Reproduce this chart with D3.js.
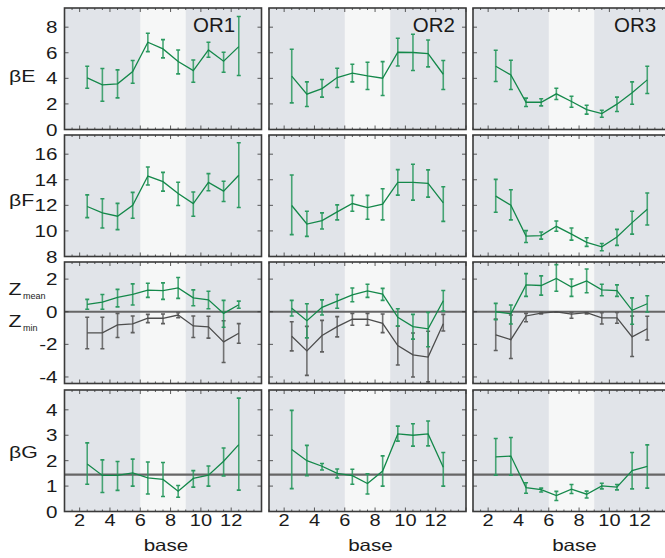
<!DOCTYPE html>
<html><head><meta charset="utf-8">
<script src="https://cdn.jsdelivr.net/npm/d3@7"></script>
<style>body{margin:0;background:#fff}svg{display:block}</style>
</head><body><svg id="c" width="665" height="558"></svg>
<script>
// ---------- data ----------
const bases = [2.5, 3.5, 4.5, 5.5, 6.5, 7.5, 8.5, 9.5, 10.5, 11.5, 12.5];
const xTickLabels = [2, 4, 6, 8, 10, 12];
const columns = ["OR1", "OR2", "OR3"];
const lightBand = [6, 9];

// βE
const bE_OR1    = [4.04, 3.49, 3.57, 4.53, 6.82, 6.30, 5.31, 4.60, 6.22, 5.34, 6.48];
const bE_OR1_hi = [4.95, 4.77, 4.66, 5.39, 7.53, 7.03, 6.22, 5.44, 6.82, 6.04, 8.83];
const bE_OR1_lo = [3.23, 2.21, 2.47, 3.62, 6.09, 5.60, 4.35, 3.70, 5.65, 4.48, 4.22];
const bE_OR2    = [4.17, 2.76, 3.20, 4.06, 4.40, 4.19, 4.01, 6.04, 6.02, 5.94, 4.32];
const bE_OR2_hi = [6.28, 3.72, 3.91, 4.79, 5.10, 5.26, 5.31, 7.14, 7.45, 7.00, 5.39];
const bE_OR2_lo = [2.08, 1.80, 2.53, 3.28, 3.72, 3.13, 2.66, 4.97, 4.61, 4.90, 3.13];
const bE_OR3    = [4.95, 4.27, 2.13, 2.13, 2.79, 2.19, 1.56, 1.25, 1.98, 2.87, 3.88];
const bE_OR3_hi = [6.20, 5.41, 2.45, 2.40, 3.23, 2.60, 1.90, 1.51, 2.53, 3.72, 4.95];
const bE_OR3_lo = [3.75, 3.13, 1.80, 1.85, 2.34, 1.74, 1.20, 0.96, 1.41, 1.98, 2.81];
const bE_ticks = [0, 2, 4, 6, 8];

// βF
const bF_OR1    = [11.91, 11.41, 11.15, 12.01, 14.29, 13.85, 12.93, 12.14, 13.80, 13.11, 14.35];
const bF_OR1_hi = [12.82, 12.51, 12.15, 13.01, 15.00, 14.58, 13.80, 13.04, 14.48, 13.88, 16.89];
const bF_OR1_lo = [11.04, 10.23, 10.10, 10.99, 13.59, 13.11, 11.99, 11.15, 13.14, 12.30, 11.83];
const bF_OR2    = [11.99, 10.54, 10.81, 11.49, 12.14, 11.83, 12.09, 13.80, 13.80, 13.72, 12.19];
const bF_OR2_hi = [14.37, 11.54, 11.41, 12.04, 12.78, 12.78, 13.30, 14.79, 15.21, 14.77, 13.45];
const bF_OR2_lo = [9.71, 9.57, 10.15, 10.86, 11.54, 10.91, 10.86, 12.80, 12.41, 12.64, 10.75];
const bF_OR3    = [12.72, 12.01, 9.60, 9.63, 10.36, 9.75, 9.10, 8.76, 9.52, 10.65, 11.70];
const bF_OR3_hi = [14.03, 13.22, 10.02, 9.91, 10.78, 10.23, 9.47, 9.02, 10.12, 11.54, 12.96];
const bF_OR3_lo = [11.46, 10.86, 9.10, 9.36, 9.97, 9.28, 8.79, 8.45, 8.87, 9.75, 10.46];
const bF_ticks = [8, 10, 12, 14, 16];

// Z mean (green) and Z min (grey)
const zMean_OR1    = [0.45, 0.59, 0.88, 1.06, 1.32, 1.30, 1.46, 0.85, 0.73, -0.10, 0.43];
const zMean_OR1_hi = [0.76, 1.06, 1.37, 1.71, 1.75, 1.77, 2.10, 1.34, 1.26, 0.70, 0.65];
const zMean_OR1_lo = [0.15, 0.15, 0.30, 0.41, 0.88, 0.76, 0.82, 0.37, 0.18, -0.95, 0.21];
const zMin_OR1     = [-1.30, -1.30, -0.81, -0.75, -0.40, -0.40, -0.20, -0.87, -0.93, -1.85, -1.32];
const zMin_OR1_hi  = [-0.34, -0.34, -0.10, -0.26, -0.16, -0.14, -0.06, -0.26, -0.28, -0.55, -0.73];
const zMin_OR1_lo  = [-2.27, -2.27, -1.58, -1.28, -0.67, -0.73, -0.37, -1.58, -1.62, -3.11, -1.93];
const zMean_OR2    = [0.21, -0.55, 0.27, 0.65, 1.04, 1.28, 1.08, -0.34, -0.91, -1.05, 0.67];
const zMean_OR2_hi = [0.70, 0.49, 0.73, 1.06, 1.46, 1.69, 1.43, 0.18, -0.16, -0.04, 1.30];
const zMean_OR2_lo = [-0.26, -1.60, -0.20, 0.21, 0.61, 0.88, 0.70, -0.89, -1.68, -2.15, 0.04];
const zMin_OR2     = [-1.50, -2.40, -1.46, -0.91, -0.46, -0.46, -0.71, -2.07, -2.64, -2.78, -0.73];
const zMin_OR2_hi  = [-0.61, -0.90, -0.53, -0.30, -0.10, -0.10, -0.14, -0.87, -1.30, -1.20, -0.16];
const zMin_OR2_lo  = [-2.40, -3.90, -2.46, -1.54, -0.83, -0.83, -1.28, -3.27, -4.00, -4.30, -1.18];
const zMean_OR3    = [0.00, -0.12, 1.65, 1.61, 2.04, 1.52, 1.89, 1.34, 1.30, 0.09, 0.49];
const zMean_OR3_hi = [0.51, 0.41, 2.34, 2.20, 2.89, 2.01, 2.62, 1.69, 1.65, 0.85, 0.98];
const zMean_OR3_lo = [-0.49, -0.75, 0.94, 1.02, 1.26, 0.94, 1.16, 0.98, 0.94, -0.77, -0.02];
const zMin_OR3     = [-1.42, -1.71, -0.26, -0.08, 0.00, -0.14, -0.06, -0.37, -0.37, -1.54, -1.04];
const zMin_OR3_hi  = [-0.45, -0.20, -0.10, -0.04, 0.00, -0.04, -0.03, -0.06, -0.05, -0.26, -0.28];
const zMin_OR3_lo  = [-2.38, -2.87, -0.61, -0.13, -0.03, -0.40, -0.13, -0.75, -0.71, -2.74, -1.73];
const z_ticks = [-4, -2, 0, 2];

// βG
const bG_OR1    = [1.87, 1.42, 1.42, 1.52, 1.32, 1.26, 0.80, 1.30, 1.43, 1.98, 2.63];
const bG_OR1_hi = [2.70, 2.03, 1.97, 2.06, 1.95, 1.93, 1.02, 1.61, 1.79, 2.50, 4.46];
const bG_OR1_lo = [1.07, 0.75, 0.83, 1.00, 0.69, 0.59, 0.56, 0.96, 1.00, 1.40, 0.84];
const bG_OR2    = [2.44, 2.00, 1.78, 1.50, 1.41, 1.10, 1.59, 3.05, 3.00, 3.05, 1.74];
const bG_OR2_hi = [3.98, 2.60, 1.89, 1.67, 1.66, 1.48, 2.19, 3.36, 3.45, 3.56, 2.32];
const bG_OR2_lo = [0.90, 1.41, 1.63, 1.32, 1.07, 0.69, 1.00, 2.77, 2.57, 2.58, 1.00];
const bG_OR3    = [2.15, 2.18, 0.94, 0.86, 0.63, 0.88, 0.68, 1.01, 0.96, 1.61, 1.78];
const bG_OR3_hi = [2.87, 2.91, 1.13, 0.92, 0.79, 1.06, 0.80, 1.11, 1.06, 2.32, 2.62];
const bG_OR3_lo = [1.43, 1.43, 0.72, 0.77, 0.43, 0.71, 0.53, 0.89, 0.85, 0.89, 0.92];
const bG_ticks = [0, 1, 2, 3, 4];
const bG_ref = 1.45;

// ---------- layout ----------
const colLeft = [64.5, 269, 473], panelW = 197;
const rowTop = [8, 135, 262, 390], panelH = 121.5;
const GREEN = "#14884a", GREEN_ERR = "#2b9a60", GREY = "#4d4d4d", GREY_ERR = "#5e5e5e";
const FONT = "'Liberation Sans', Arial, Helvetica, sans-serif";
const STRETCH = 1.25;

const rows = [
  { domain: [0, 9.5], ticks: bE_ticks, ref: null,
    series: [[[bE_OR1, bE_OR1_lo, bE_OR1_hi]], [[bE_OR2, bE_OR2_lo, bE_OR2_hi]], [[bE_OR3, bE_OR3_lo, bE_OR3_hi]]] },
  { domain: [8, 17.5], ticks: bF_ticks, ref: null,
    series: [[[bF_OR1, bF_OR1_lo, bF_OR1_hi]], [[bF_OR2, bF_OR2_lo, bF_OR2_hi]], [[bF_OR3, bF_OR3_lo, bF_OR3_hi]]] },
  { domain: [-4.4, 3.05], ticks: z_ticks, ref: 0,
    series: [
      [[zMin_OR1, zMin_OR1_lo, zMin_OR1_hi, "grey"], [zMean_OR1, zMean_OR1_lo, zMean_OR1_hi]],
      [[zMin_OR2, zMin_OR2_lo, zMin_OR2_hi, "grey"], [zMean_OR2, zMean_OR2_lo, zMean_OR2_hi]],
      [[zMin_OR3, zMin_OR3_lo, zMin_OR3_hi, "grey"], [zMean_OR3, zMean_OR3_lo, zMean_OR3_hi]]] },
  { domain: [0, 4.78], ticks: bG_ticks, ref: bG_ref,
    series: [[[bG_OR1, bG_OR1_lo, bG_OR1_hi]], [[bG_OR2, bG_OR2_lo, bG_OR2_hi]], [[bG_OR3, bG_OR3_lo, bG_OR3_hi]]] }
];

const svg = d3.select("#c");
const x = d3.scaleLinear().domain([1, 14]).range([0, panelW]);

function stretchedText(g, tx, ty, str, size, anchor) {
  return g.append("text")
    .attr("transform", `translate(${tx},${ty}) scale(${STRETCH},1)`)
    .attr("text-anchor", anchor)
    .attr("font-family", FONT).attr("font-size", size).attr("fill", "#1a1a1a")
    .text(str);
}

const defs = svg.append("defs");
defs.append("clipPath").attr("id", "pclip").append("rect")
  .attr("x", 0).attr("y", 0).attr("width", panelW).attr("height", panelH);

rows.forEach((row, r) => {
  const y = d3.scaleLinear().domain(row.domain).range([panelH, 0]);
  columns.forEach((col, c) => {
    const g = svg.append("g").attr("transform", `translate(${colLeft[c]},${rowTop[r]})`);
    const inner = g.append("g").attr("clip-path", "url(#pclip)");
    inner.append("rect").attr("width", panelW).attr("height", panelH).attr("fill", "#e1e4e9");
    inner.append("rect").attr("x", x(lightBand[0])).attr("width", x(lightBand[1]) - x(lightBand[0]))
      .attr("height", panelH).attr("fill", "#f6f7f7");
    if (row.ref !== null) {
      inner.append("line").attr("x1", 0).attr("x2", panelW)
        .attr("y1", y(row.ref)).attr("y2", y(row.ref))
        .attr("stroke", "#666").attr("stroke-width", 2.2);
    }
    row.series[c].forEach(s => {
      const [vals, lo, hi, kind] = s;
      const lc = kind === "grey" ? GREY : GREEN;
      const ec = kind === "grey" ? GREY_ERR : GREEN_ERR;
      const pts = bases.map((b, i) => ({ b, v: vals[i], lo: lo[i], hi: hi[i] }));
      const eb = inner.append("g");
      pts.forEach(p => {
        eb.append("line").attr("x1", x(p.b)).attr("x2", x(p.b))
          .attr("y1", y(p.lo)).attr("y2", y(p.hi))
          .attr("stroke", ec).attr("stroke-width", 1.6).attr("opacity", 0.85);
        [p.lo, p.hi].forEach(e => {
          eb.append("line").attr("x1", x(p.b) - 2).attr("x2", x(p.b) + 2)
            .attr("y1", y(e)).attr("y2", y(e))
            .attr("stroke", ec).attr("stroke-width", 1.6);
        });
      });
      inner.append("path").datum(pts)
        .attr("d", d3.line().x(d => x(d.b)).y(d => y(d.v)))
        .attr("fill", "none").attr("stroke", lc).attr("stroke-width", 1.3);
    });
    const tk = g.append("g").attr("stroke", "#333").attr("stroke-width", 0.8);
    d3.range(1, 14.01, 0.5).forEach(t => {
      const len = (t % 2 === 0) ? 4 : 2;
      tk.append("line").attr("x1", x(t)).attr("x2", x(t)).attr("y1", panelH).attr("y2", panelH - len);
      tk.append("line").attr("x1", x(t)).attr("x2", x(t)).attr("y1", 0).attr("y2", len);
    });
    row.ticks.forEach(t => {
      tk.append("line").attr("x1", 0).attr("x2", 4).attr("y1", y(t)).attr("y2", y(t));
      tk.append("line").attr("x1", panelW).attr("x2", panelW - 4).attr("y1", y(t)).attr("y2", y(t));
    });
    g.append("rect").attr("width", panelW).attr("height", panelH)
      .attr("fill", "none").attr("stroke", "#3a3a3a").attr("stroke-width", 1.6);

    if (c === 0) {
      row.ticks.forEach(t => {
        stretchedText(g, -7, y(t) + 6, String(t), 16.5, "end");
      });
    }
    if (r === 3) {
      xTickLabels.forEach(t => {
        stretchedText(g, x(t), panelH + 14.8, String(t), 16, "middle");
      });
      stretchedText(g, panelW / 2 + 3, panelH + 39.8, "base", 16.5, "middle");
    }
    if (r === 0) {
      const orX = [128.5, 143.7, 141][c];
      g.append("text").attr("x", orX).attr("y", 24).attr("font-family", FONT)
        .attr("font-size", 20.5).attr("fill", "#1a1a1a").text(col);
    }
  });
});

// row labels
const lab = svg.append("g");
stretchedText(lab, 9, 82, "βE", 17, "start");
stretchedText(lab, 9, 205.5, "βF", 17, "start");
stretchedText(lab, 9, 457.5, "βG", 17, "start");
stretchedText(lab, 8.5, 294.5, "Z", 17, "start");
lab.append("text").attr("x", 23).attr("y", 298.5).attr("font-family", FONT)
  .attr("font-size", 9).attr("fill", "#1a1a1a").text("mean");
stretchedText(lab, 8.5, 327, "Z", 17, "start");
lab.append("text").attr("x", 23).attr("y", 330.5).attr("font-family", FONT)
  .attr("font-size", 9).attr("fill", "#1a1a1a").text("min");
</script>
</body></html>
